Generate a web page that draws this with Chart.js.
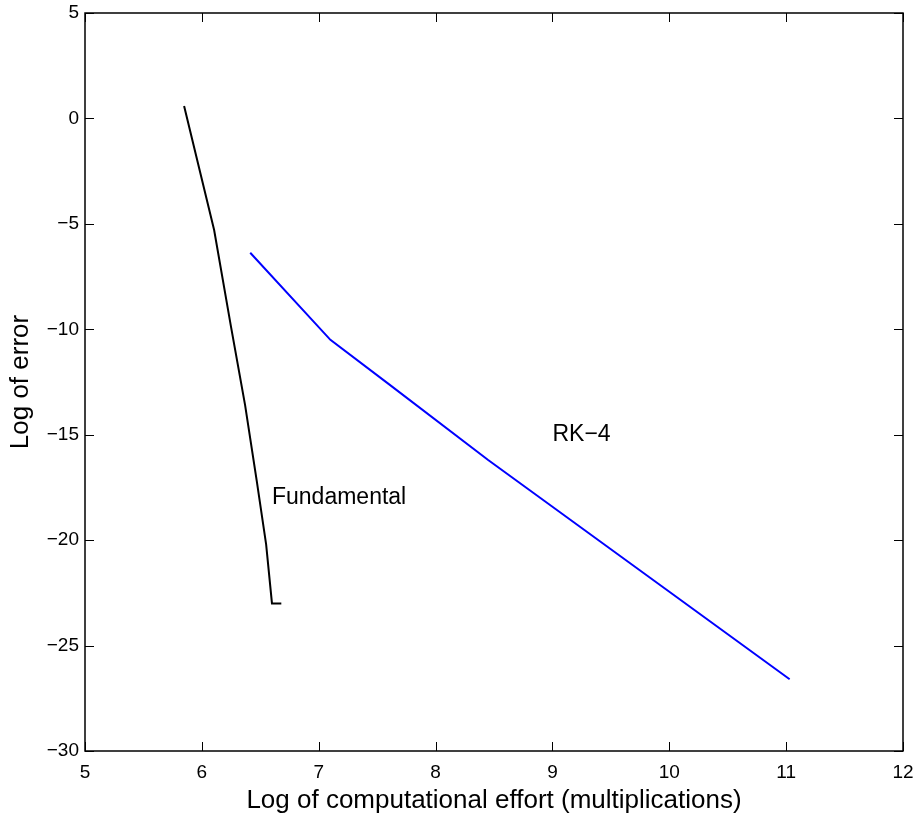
<!DOCTYPE html>
<html>
<head>
<meta charset="utf-8">
<script src="https://cdn.jsdelivr.net/npm/chart.js@4/dist/chart.umd.min.js"></script>
<style>
  html, body { margin: 0; padding: 0; background: #fff; }
  #wrap { width: 919px; height: 818px; position: relative; }
</style>
</head>
<body>
<div id="wrap"><canvas id="chart"></canvas></div>
<script>
// ── Data ─────────────────────────────────────────────────
const fundamentalX = [5.848, 6.105, 6.25, 6.37, 6.47, 6.55, 6.60, 6.68];
const fundamentalY = [0.59, -5.29, -9.9, -13.6, -17.2, -20.2, -23.0, -23.0];

const rk4X = [6.414, 7.10, 7.60, 8.45, 11.03];
const rk4Y = [-6.37, -10.5, -12.6, -16.2, -26.6];

const xTicks = [5, 6, 7, 8, 9, 10, 11, 12];
const yTicks = [5, 0, -5, -10, -15, -20, -25, -30];

// in-plot text labels (data coords, left aligned)
const noteText = ['RK\u22124', 'Fundamental'];
const noteX = [9.0, 6.6];
const noteY = [-15.0, -18.0];

const FONT = "'Liberation Sans', Arial, Helvetica, sans-serif";

const toPoints = (xs, ys) => xs.map((x, i) => ({ x, y: ys[i] }));

// Box around the axes plus inward tick marks on all four sides
const boxPlugin = {
  id: 'matlabBox',
  afterDraw(chart) {
    const { ctx, chartArea: a, scales: { x, y } } = chart;
    const len = 9;
    ctx.save();
    ctx.strokeStyle = '#000';
    ctx.lineWidth = 1;
    ctx.beginPath();
    xTicks.forEach((v) => {
      const px = Math.round(x.getPixelForValue(v)) + 0.5;
      ctx.moveTo(px, a.bottom); ctx.lineTo(px, a.bottom - len);
      ctx.moveTo(px, a.top); ctx.lineTo(px, a.top + len);
    });
    yTicks.forEach((v) => {
      const py = Math.round(y.getPixelForValue(v)) + 0.5;
      ctx.moveTo(a.left, py); ctx.lineTo(a.left + len, py);
      ctx.moveTo(a.right, py); ctx.lineTo(a.right - len, py);
    });
    ctx.stroke();
    ctx.lineWidth = 1.5;
    ctx.strokeRect(a.left, a.top, a.right - a.left, a.bottom - a.top);

    // text annotations
    ctx.fillStyle = '#000';
    ctx.font = '23px ' + FONT;
    ctx.textAlign = 'left';
    ctx.textBaseline = 'middle';
    noteText.forEach((t, i) => {
      ctx.fillText(t, x.getPixelForValue(noteX[i]), y.getPixelForValue(noteY[i]));
    });
    ctx.restore();
  },
};

new Chart(document.getElementById('chart'), {
  type: 'scatter',
  data: {
    datasets: [
      {
        label: 'Fundamental',
        data: toPoints(fundamentalX, fundamentalY),
        showLine: true,
        borderColor: '#000000',
        borderWidth: 2,
        pointRadius: 0,
        tension: 0,
      },
      {
        label: 'RK-4',
        data: toPoints(rk4X, rk4Y),
        showLine: true,
        borderColor: '#0000ff',
        borderWidth: 2,
        pointRadius: 0,
        tension: 0,
      },
    ],
  },
  options: {
    responsive: true,
    maintainAspectRatio: false,
    animation: false,
    layout: { padding: { top: 13, right: 16, left: 0, bottom: 0 } },
    plugins: { legend: { display: false }, tooltip: { enabled: false } },
    scales: {
      x: {
        type: 'linear',
        min: 5,
        max: 12,
        afterBuildTicks: (s) => { s.ticks = xTicks.map((v) => ({ value: v })); },
        afterFit: (s) => { s.height = 67; s.paddingLeft = 0; s.paddingRight = 0; },
        grid: { display: false, drawTicks: false },
        border: { display: false },
        ticks: { color: '#000', font: { family: FONT, size: 19 }, padding: 10, maxRotation: 0 },
        title: {
          display: true,
          text: 'Log of computational effort (multiplications)',
          color: '#000',
          font: { family: FONT, size: 26 },
          padding: { top: 0, bottom: 2 },
        },
      },
      y: {
        type: 'linear',
        min: -30,
        max: 5,
        afterBuildTicks: (s) => { s.ticks = yTicks.map((v) => ({ value: v })); },
        afterFit: (s) => { s.width = 85; s.paddingTop = 0; s.paddingBottom = 0; },
        grid: { display: false, drawTicks: false },
        border: { display: false },
        ticks: {
          color: '#000',
          font: { family: FONT, size: 19 },
          padding: 6,
          callback: (v) => String(v).replace('-', '\u2212'),
        },
        title: {
          display: true,
          text: 'Log of error',
          color: '#000',
          font: { family: FONT, size: 26 },
          padding: { top: 5, bottom: 0 },
        },
      },
    },
  },
  plugins: [boxPlugin],
});
</script>
</body>
</html>
